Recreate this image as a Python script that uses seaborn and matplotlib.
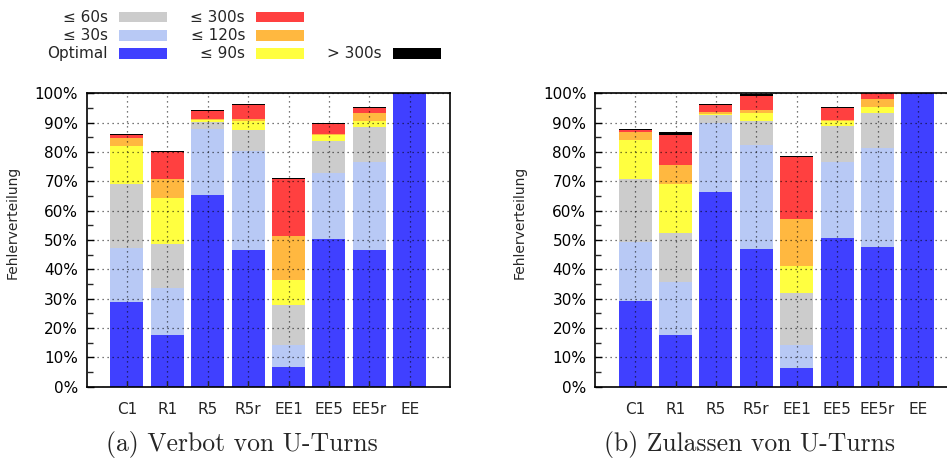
import matplotlib
matplotlib.use("Agg")
import matplotlib.pyplot as plt
import seaborn as sns
import pandas as pd
import numpy as np
from matplotlib.patches import Rectangle
from matplotlib.ticker import MultipleLocator, FixedLocator, FixedFormatter

# strategies on the x axis
categories = ["C1", "R1", "R5", "R5r", "EE1", "EE5", "EE5r", "EE"]

# error classes, bottom to top of each stack
levels = ["Optimal", "≤ 30s", "≤ 60s", "≤ 90s", "≤ 120s", "≤ 300s", "> 300s"]
level_colors = ["#4040ff", "#b8c9f5", "#cccccc", "#ffff40", "#ffb840", "#ff4040", "#000000"]

# (a) U-turns forbidden: share of each class in percent
verbot_optimal = [28.9, 17.7, 65.4, 46.6, 6.7, 50.4, 46.6, 100.0]
verbot_30s = [18.5, 15.9, 22.3, 33.6, 7.4, 22.3, 30.1, 0.0]
verbot_60s = [21.8, 15.1, 2.6, 7.4, 13.8, 11.1, 11.8, 0.0]
verbot_90s = [13.0, 15.7, 0.5, 3.1, 8.5, 2.0, 2.1, 0.0]
verbot_120s = [2.7, 6.5, 0.6, 0.6, 15.0, 0.2, 2.8, 0.0]
verbot_300s = [0.9, 9.2, 2.6, 4.7, 19.4, 3.6, 1.6, 0.0]
verbot_over = [0.4, 0.3, 0.3, 0.4, 0.3, 0.3, 0.3, 0.0]

# (b) U-turns allowed: share of each class in percent
zulassen_optimal = [29.1, 17.7, 66.4, 46.8, 6.5, 50.6, 47.7, 100.0]
zulassen_30s = [20.3, 17.9, 23.4, 35.5, 7.6, 26.0, 33.7, 0.0]
zulassen_60s = [21.5, 16.8, 2.7, 8.3, 17.8, 12.4, 12.0, 0.0]
zulassen_90s = [13.2, 16.8, 0.6, 2.8, 9.4, 1.7, 1.9, 0.0]
zulassen_120s = [2.8, 6.5, 0.5, 0.9, 15.8, 0.1, 2.9, 0.0]
zulassen_300s = [0.6, 10.1, 2.4, 4.7, 21.1, 4.2, 1.8, 0.0]
zulassen_over = [0.4, 1.0, 0.4, 0.9, 0.3, 0.3, 0.0, 0.0]

ytick_values = [0, 10, 20, 30, 40, 50, 60, 70, 80, 90, 100]
ytick_labels = ["0%", "10%", "20%", "30%", "40%", "50%", "60%", "70%", "80%", "90%", "100%"]

captions = ["(a) Verbot von U-Turns", "(b) Zulassen von U-Turns"]
ylabel = "Fehlerverteilung"

panels = [
    [verbot_optimal, verbot_30s, verbot_60s, verbot_90s, verbot_120s, verbot_300s, verbot_over],
    [zulassen_optimal, zulassen_30s, zulassen_60s, zulassen_90s, zulassen_120s, zulassen_300s, zulassen_over],
]

sns.set_theme(style="white")
plt.rcParams["font.family"] = ["DejaVu Sans"]

W, H = 947, 462
fig = plt.figure(figsize=(W / 100, H / 100), dpi=100)


def fx(px):
    return px / W


def fy(py):
    return 1 - py / H


ax_top, ax_bot = 93.3, 386.7
step = 40.4
axes_left = [86.5, 594.7]
caption_x = [242, 750]
ylabel_x = [20, 527]

for idx, series in enumerate(panels):
    left = axes_left[idx]
    ax = fig.add_axes([fx(left), fy(ax_bot), fx(9 * step), (ax_bot - ax_top) / H])
    df = pd.DataFrame({lvl: vals for lvl, vals in zip(levels, series)}, index=categories)
    cum = df.cumsum(axis=1)
    # draw cumulative totals from the top class down so each layer covers the next
    for lvl, col in reversed(list(zip(levels, level_colors))):
        sns.barplot(x=categories, y=cum[lvl].values, color=col, saturation=1,
                    width=0.82, errorbar=None, ax=ax, linewidth=0)
    ax.set_xlim(-1, 8)
    ax.set_ylim(0, 100)
    ax.yaxis.set_major_locator(FixedLocator(ytick_values))
    ax.yaxis.set_major_formatter(FixedFormatter(ytick_labels))
    ax.yaxis.set_minor_locator(MultipleLocator(5))
    ax.set_axisbelow(False)
    ax.grid(True, which="major", axis="both", color="black", alpha=0.7,
            linestyle=(0, (1, 3)), linewidth=0.9)
    ax.tick_params(axis="y", which="major", direction="in", length=5, width=1,
                   left=True, right=False, labelsize=11, pad=6, colors="black")
    ax.tick_params(axis="y", which="minor", direction="in", length=4, width=1,
                   left=True, right=False)
    ax.tick_params(axis="x", which="major", direction="in", length=4, width=1,
                   bottom=True, top=False, labelsize=11, pad=11)
    for sp in ax.spines.values():
        sp.set_visible(True)
        sp.set_color("black")
        sp.set_linewidth(1.2)
    ax.set_xlabel("")
    ax.set_ylabel(ylabel, fontsize=10)
    ax.yaxis.set_label_coords((ylabel_x[idx] - left) / (9 * step), (ax_bot - 222) / (ax_bot - ax_top))
    fig.text(fx(caption_x[idx]), fy(445), captions[idx], family="cmr10", fontsize=18.5,
             ha="center", va="center")

# legend: three columns, label right-aligned left of its swatch
legend_slots = {
    "≤ 60s": (0, 0), "≤ 30s": (0, 1), "Optimal": (0, 2),
    "≤ 300s": (1, 0), "≤ 120s": (1, 1), "≤ 90s": (1, 2),
    "> 300s": (2, 2),
}
col_text_end = [108, 245, 382]
col_box_x = [119, 256, 393]
row_y = [17, 35.5, 53.5]
for lvl, col in zip(levels, level_colors):
    c, r = legend_slots[lvl]
    fig.text(fx(col_text_end[c]), fy(row_y[r]), lvl, fontsize=11, ha="right", va="center")
    fig.add_artist(Rectangle((fx(col_box_x[c]), fy(row_y[r] + 5)), fx(48), 10 / H,
                             transform=fig.transFigure, facecolor=col, edgecolor="none"))

fig.savefig("out.png", dpi=100)
